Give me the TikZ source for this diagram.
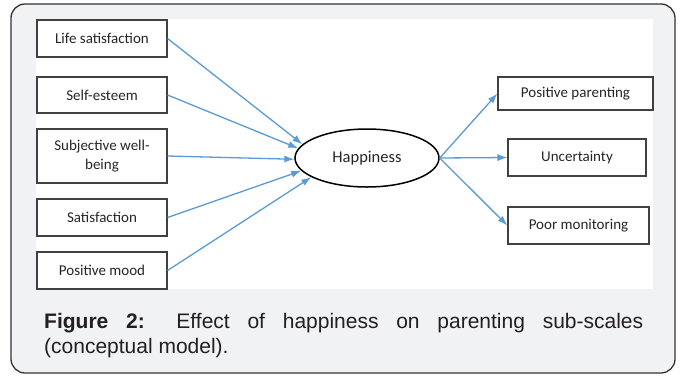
\documentclass[tikz,border=0pt]{standalone}
\usepackage{fontspec}
\setmainfont{Liberation Sans}
\newfontfamily\boxfont{Carlito}
\usetikzlibrary{arrows.meta,shapes.geometric}

\definecolor{FrameColor}{RGB}{241,242,244}
\definecolor{FrameLine}{RGB}{51,51,51}
\definecolor{BoxLine}{RGB}{64,64,64}
\definecolor{EffectColor}{RGB}{91,155,213}
\definecolor{LabelColor}{RGB}{38,38,38}
\definecolor{CaptionColor}{RGB}{35,31,32}
\tikzstyle{hp-box-base}=[rectangle,
                         draw=BoxLine,
                         line width=1.1pt,
                         align=center,
                         inner sep=0pt,
                         text=LabelColor,
                         font=\boxfont\fontsize{15}{18.5}\selectfont,
                        ]
\tikzstyle{predictor}=[hp-box-base,
                       minimum width=130pt,
                       minimum height=37pt]
\tikzstyle{outcome}=[hp-box-base,
                     minimum height=37pt]
\tikzstyle{effect}=[draw=EffectColor, line width=1.3pt, -{Latex[length=10pt,width=7pt]}]

\begin{document}
\begin{tikzpicture}[x=1pt, y=-1pt]
\useasboundingbox (0,0) rectangle (683,376);
\node at (343,   188.5) (frame) [rectangle, rounded corners=14pt, draw=FrameLine, line width=1.3pt, fill=FrameColor, minimum width=664pt, minimum height=369pt] {};
\node at (344.5, 154)   (panel) [rectangle, fill=white, inner sep=0pt, minimum width=617pt, minimum height=270pt] {};

\node at (102,  38.5) (life)   [predictor]                     {Life satisfaction};
\node at (102,  95)   (esteem) [predictor, minimum height=36pt] {Self-esteem};
\node at (102, 156)   (wellb)  [predictor, minimum height=54pt] {Subjective well-\\being};
\node at (102, 217.5) (satis)  [predictor]                     {Satisfaction};
\node at (102, 270.5) (mood)   [predictor]                     {Positive mood};

\node at (367, 158) (hap) [ellipse, draw=black, line width=1.5pt, minimum width=144pt, minimum height=58pt, inner sep=0pt, text=LabelColor, font=\boxfont\fontsize{16.5}{18}\selectfont] {Happiness};

\node at (575.5,  93.5) (pospar) [outcome, minimum width=155pt, minimum height=33pt] {Positive parenting};
\node at (577,   157.5) (uncert) [outcome, minimum width=138pt]                     {Uncertainty};
\node at (578.5, 225.5) (poor)   [outcome, minimum width=141pt]                     {Poor monitoring};

\node at (44, 313) (caption) [anchor=north west, text width=599pt, align=justify, inner sep=0pt, text=CaptionColor, font=\fontsize{21}{25}\selectfont] {\textbf{Figure 2:} Effect of happiness on parenting sub-scales\linebreak (conceptual model).};

\draw[effect] (life.east)   -- (hap.168);
\draw[effect] (esteem.east) -- (hap.172);
\draw[effect] (wellb.east)  -- (hap.181);
\draw[effect] (satis.east)  -- (hap.191);
\draw[effect] (mood.east)   -- (hap.199);
\draw[effect] (hap.east) -- (pospar.west);
\draw[effect] (hap.east) -- (uncert.west);
\draw[effect] (hap.east) -- (poor.west);
\end{tikzpicture}
\end{document}
